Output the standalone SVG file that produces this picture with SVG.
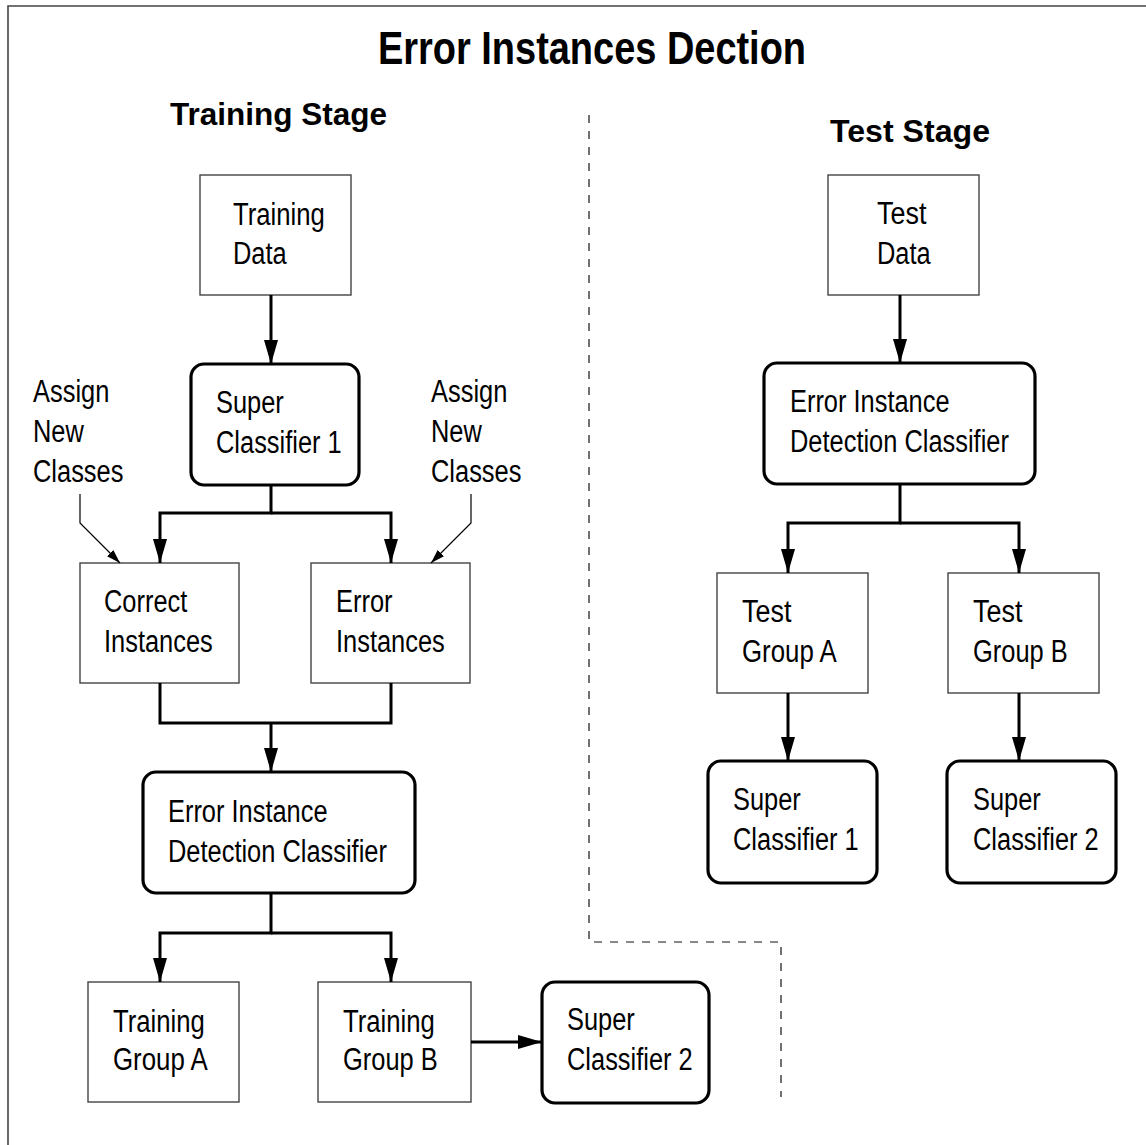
<svg xmlns="http://www.w3.org/2000/svg" width="1146" height="1145" viewBox="0 0 1146 1145">
  <style>
    .frame { fill: none; stroke: #444; stroke-width: 1.6; }
    .box { fill: #fff; stroke: #444; stroke-width: 1.4; }
    .rbox { fill: #fff; stroke: #000; stroke-width: 3.2; }
    .lbl { font-family: "Liberation Sans Narrow", "Liberation Sans", Arial, sans-serif; font-size: 31px; fill: #000; }
    .title { font-family: "Liberation Sans", Arial, sans-serif; font-weight: bold; font-size: 46px; fill: #000; }
    .head { font-family: "Liberation Sans", Arial, sans-serif; font-weight: bold; font-size: 32px; fill: #000; }
    .flow { fill: none; stroke: #000; stroke-width: 3; }
    .thin { fill: none; stroke: #000; stroke-width: 1.2; }
    .divider { fill: none; stroke: #111; stroke-width: 1.2; stroke-dasharray: 8 8; }
  </style>
  <defs>
    <marker id="ah" markerUnits="userSpaceOnUse" markerWidth="24" markerHeight="14" refX="24" refY="7" viewBox="0 0 24 14" orient="auto">
      <path d="M0,0 L24,7 L0,14 Z" fill="#000"/>
    </marker>
    <marker id="ahs" markerUnits="userSpaceOnUse" markerWidth="14" markerHeight="9" refX="14" refY="4.5" viewBox="0 0 14 9" orient="auto">
      <path d="M0,0 L14,4.5 L0,9 Z" fill="#000"/>
    </marker>
  </defs>

  <rect width="1146" height="1145" fill="#fff"/>
  <path class="frame" d="M8,1145 V6 H1146"/>

  <text class="title" x="378" y="64" textLength="428" lengthAdjust="spacingAndGlyphs">Error Instances Dection</text>
  <text class="head" x="170" y="125" textLength="217" lengthAdjust="spacingAndGlyphs">Training Stage</text>
  <text class="head" x="830" y="142" textLength="160" lengthAdjust="spacingAndGlyphs">Test Stage</text>

  <!-- dashed boundary between the two stages -->
  <path class="divider" d="M589,115 V942 H781 V1097"/>

  <!-- training stage -->
  <g id="training-data">
    <rect class="box" x="200" y="175" width="151" height="120"/>
    <text class="lbl" x="233" y="225" textLength="91.8" lengthAdjust="spacingAndGlyphs">Training</text>
    <text class="lbl" x="233" y="264" textLength="53.7" lengthAdjust="spacingAndGlyphs">Data</text>
  </g>
  <g id="super-classifier-1">
    <rect class="rbox" x="191" y="364" width="168" height="121" rx="13"/>
    <text class="lbl" x="216" y="413" textLength="67.8" lengthAdjust="spacingAndGlyphs">Super</text>
    <text class="lbl" x="216" y="453" textLength="125.7" lengthAdjust="spacingAndGlyphs">Classifier 1</text>
  </g>
  <g id="assign-left">
    <text class="lbl" x="33" y="402" textLength="76.3" lengthAdjust="spacingAndGlyphs">Assign</text>
    <text class="lbl" x="33" y="442" textLength="50.8" lengthAdjust="spacingAndGlyphs">New</text>
    <text class="lbl" x="33" y="482" textLength="90.4" lengthAdjust="spacingAndGlyphs">Classes</text>
  </g>
  <g id="assign-right">
    <text class="lbl" x="431" y="402" textLength="76.3" lengthAdjust="spacingAndGlyphs">Assign</text>
    <text class="lbl" x="431" y="442" textLength="50.8" lengthAdjust="spacingAndGlyphs">New</text>
    <text class="lbl" x="431" y="482" textLength="90.4" lengthAdjust="spacingAndGlyphs">Classes</text>
  </g>
  <g id="correct-instances">
    <rect class="box" x="80" y="563" width="159" height="120"/>
    <text class="lbl" x="104" y="612" textLength="83.3" lengthAdjust="spacingAndGlyphs">Correct</text>
    <text class="lbl" x="104" y="652" textLength="108.8" lengthAdjust="spacingAndGlyphs">Instances</text>
  </g>
  <g id="error-instances">
    <rect class="box" x="311" y="563" width="159" height="120"/>
    <text class="lbl" x="336" y="612" textLength="56.5" lengthAdjust="spacingAndGlyphs">Error</text>
    <text class="lbl" x="336" y="652" textLength="108.8" lengthAdjust="spacingAndGlyphs">Instances</text>
  </g>
  <g id="eid-classifier-train">
    <rect class="rbox" x="143" y="772" width="272" height="121" rx="13"/>
    <text class="lbl" x="168" y="822" textLength="159.6" lengthAdjust="spacingAndGlyphs">Error Instance</text>
    <text class="lbl" x="168" y="862" textLength="218.9" lengthAdjust="spacingAndGlyphs">Detection Classifier</text>
  </g>
  <g id="training-group-a">
    <rect class="box" x="88" y="982" width="151" height="120"/>
    <text class="lbl" x="113" y="1032" textLength="91.8" lengthAdjust="spacingAndGlyphs">Training</text>
    <text class="lbl" x="113" y="1070" textLength="94.7" lengthAdjust="spacingAndGlyphs">Group A</text>
  </g>
  <g id="training-group-b">
    <rect class="box" x="318" y="982" width="153" height="120"/>
    <text class="lbl" x="343" y="1032" textLength="91.8" lengthAdjust="spacingAndGlyphs">Training</text>
    <text class="lbl" x="343" y="1070" textLength="94.7" lengthAdjust="spacingAndGlyphs">Group B</text>
  </g>
  <g id="super-classifier-2-train">
    <rect class="rbox" x="542" y="982" width="167" height="121" rx="13"/>
    <text class="lbl" x="567" y="1030" textLength="67.8" lengthAdjust="spacingAndGlyphs">Super</text>
    <text class="lbl" x="567" y="1070" textLength="125.7" lengthAdjust="spacingAndGlyphs">Classifier 2</text>
  </g>

  <!-- test stage -->
  <g id="test-data">
    <rect class="box" x="828" y="175" width="151" height="120"/>
    <text class="lbl" x="877" y="224" textLength="49.4" lengthAdjust="spacingAndGlyphs">Test</text>
    <text class="lbl" x="877" y="264" textLength="53.7" lengthAdjust="spacingAndGlyphs">Data</text>
  </g>
  <g id="eid-classifier-test">
    <rect class="rbox" x="764" y="363" width="271" height="121" rx="13"/>
    <text class="lbl" x="790" y="412" textLength="159.6" lengthAdjust="spacingAndGlyphs">Error Instance</text>
    <text class="lbl" x="790" y="452" textLength="218.9" lengthAdjust="spacingAndGlyphs">Detection Classifier</text>
  </g>
  <g id="test-group-a">
    <rect class="box" x="717" y="573" width="151" height="120"/>
    <text class="lbl" x="742" y="622" textLength="49.4" lengthAdjust="spacingAndGlyphs">Test</text>
    <text class="lbl" x="742" y="662" textLength="94.7" lengthAdjust="spacingAndGlyphs">Group A</text>
  </g>
  <g id="test-group-b">
    <rect class="box" x="948" y="573" width="151" height="120"/>
    <text class="lbl" x="973" y="622" textLength="49.4" lengthAdjust="spacingAndGlyphs">Test</text>
    <text class="lbl" x="973" y="662" textLength="94.7" lengthAdjust="spacingAndGlyphs">Group B</text>
  </g>
  <g id="super-classifier-1-test">
    <rect class="rbox" x="708" y="761" width="169" height="122" rx="13"/>
    <text class="lbl" x="733" y="810" textLength="67.8" lengthAdjust="spacingAndGlyphs">Super</text>
    <text class="lbl" x="733" y="850" textLength="125.7" lengthAdjust="spacingAndGlyphs">Classifier 1</text>
  </g>
  <g id="super-classifier-2-test">
    <rect class="rbox" x="947" y="761" width="169" height="122" rx="13"/>
    <text class="lbl" x="973" y="810" textLength="67.8" lengthAdjust="spacingAndGlyphs">Super</text>
    <text class="lbl" x="973" y="850" textLength="125.7" lengthAdjust="spacingAndGlyphs">Classifier 2</text>
  </g>

  <g id="connectors">
    <!-- training stage flow -->
    <path class="flow" d="M271,295 V364" marker-end="url(#ah)"/>
    <path class="flow" d="M271,485 V513 H160 V563" marker-end="url(#ah)"/>
    <path class="flow" d="M271,513 H391 V563" marker-end="url(#ah)"/>
    <path class="thin" d="M80,494 V523 L120,563" marker-end="url(#ahs)"/>
    <path class="thin" d="M471,494 V523 L431,563" marker-end="url(#ahs)"/>
    <path class="flow" d="M160,683 V723 H391 V683"/>
    <path class="flow" d="M271,723 V772" marker-end="url(#ah)"/>
    <path class="flow" d="M271,893 V933 H160 V982" marker-end="url(#ah)"/>
    <path class="flow" d="M271,933 H391 V982" marker-end="url(#ah)"/>
    <path class="flow" d="M471,1042 H542" marker-end="url(#ah)"/>
    <!-- test stage flow -->
    <path class="flow" d="M900,295 V363" marker-end="url(#ah)"/>
    <path class="flow" d="M900,484 V523 H788 V573" marker-end="url(#ah)"/>
    <path class="flow" d="M900,523 H1019 V573" marker-end="url(#ah)"/>
    <path class="flow" d="M788,693 V761" marker-end="url(#ah)"/>
    <path class="flow" d="M1019,693 V761" marker-end="url(#ah)"/>
  </g>
</svg>
